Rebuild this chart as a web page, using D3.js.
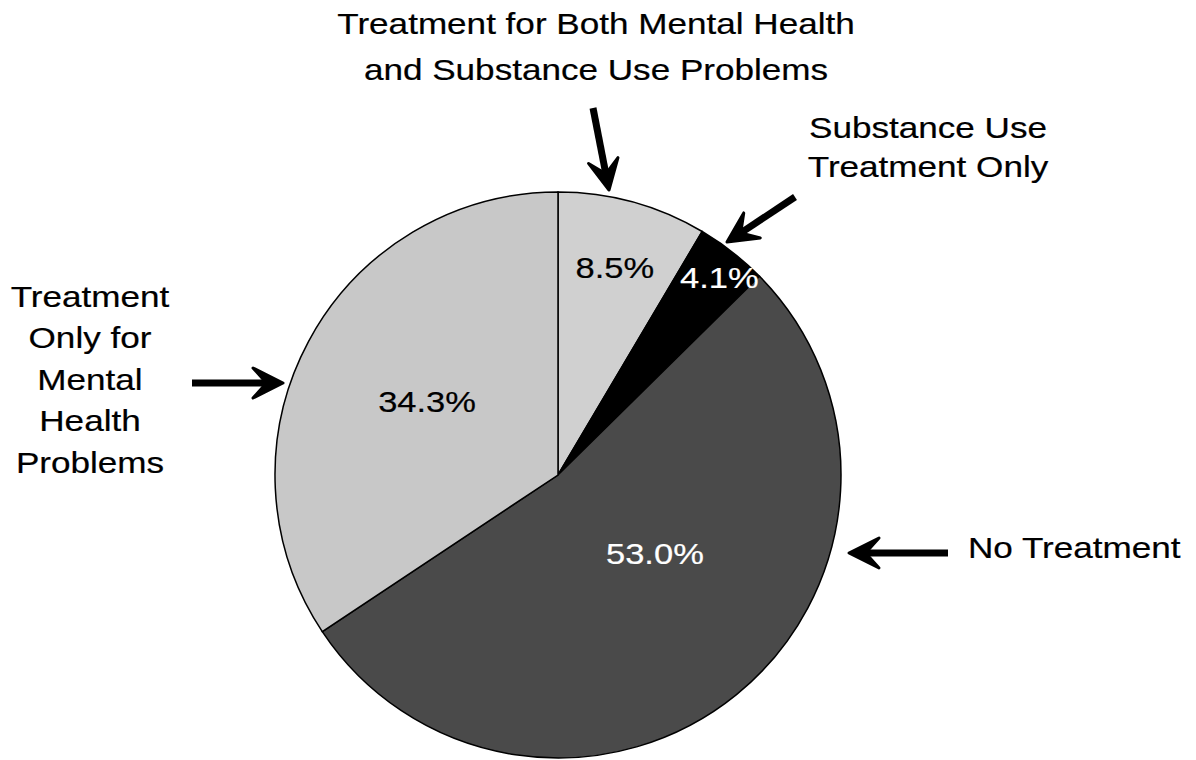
<!DOCTYPE html>
<html>
<head>
<meta charset="utf-8">
<script src="https://cdn.jsdelivr.net/npm/d3@7"></script>
<style>
  html, body { margin: 0; padding: 0; background: #fff; }
  svg { display: block; }
  text { font-family: "Liberation Sans", Arial, sans-serif; }
</style>
</head>
<body>
<svg id="chart" width="1196" height="760"></svg>
<script>
// Data (clockwise from 12 o'clock)
const categories = ["Treatment for Both Mental Health and Substance Use Problems",
                    "Substance Use Treatment Only",
                    "No Treatment",
                    "Treatment Only for Mental Health Problems"];
const values = [8.5, 4.1, 53.0, 34.3];
const valueLabels = ["8.5%", "4.1%", "53.0%", "34.3%"];
const sliceColors = ["#d0d0d0", "#000000", "#4a4a4a", "#c8c8c8"];
const valueLabelColors = ["#000", "#fff", "#fff", "#000"];

const svg = d3.select("#chart");
const cx = 558, cy = 475, r = 283;
const sx = 1.19; // horizontal stretch of the lettering in the original

const pie = d3.pie().sort(null).value(d => d)(values);
const arc = d3.arc().innerRadius(0).outerRadius(r);

const g = svg.append("g").attr("transform", `translate(${cx},${cy})`);
g.selectAll("path.slice").data(pie).enter().append("path")
  .attr("class", "slice")
  .attr("d", arc)
  .attr("fill", (d, i) => sliceColors[i])
  .attr("stroke", "#000")
  .attr("stroke-width", 1.5);

// value label placement: fraction of radius and angle tweak (degrees) from slice mid-angle
const labelRadius = [0.76, 0.90, 0.44, 0.53];
const labelAngleShift = [0, 1.3, -12, 1];
g.selectAll("g.val").data(pie).enter().append("g")
  .attr("class", "val")
  .attr("transform", (d, i) => {
    const a = (d.startAngle + d.endAngle) / 2 + labelAngleShift[i] * Math.PI / 180;
    const rr = r * labelRadius[i];
    return `translate(${rr * Math.sin(a)},${-rr * Math.cos(a)}) scale(${sx},1)`;
  })
  .append("text")
  .attr("text-anchor", "middle")
  .attr("dy", "0.36em")
  .attr("font-size", 29)
  .attr("fill", (d, i) => valueLabelColors[i])
  .attr("stroke", (d, i) => valueLabelColors[i])
  .attr("stroke-width", 0.2)
  .text((d, i) => valueLabels[i]);

// category labels
const catLines = [
  { lines: ["Treatment for Both Mental Health", "and Substance Use Problems"], x: 596, y: 34, anchor: "middle", lh: 46 },
  { lines: ["Substance Use", "Treatment Only"], x: 928, y: 138, anchor: "middle", lh: 39 },
  { lines: ["No Treatment"], x: 968, y: 558, anchor: "start", lh: 40 },
  { lines: ["Treatment", "Only for", "Mental", "Health", "Problems"], x: 90, y: 307, anchor: "middle", lh: 41.5 }
];
catLines.forEach(c => {
  const t = svg.append("g")
    .attr("transform", `translate(${c.x},${c.y}) scale(${sx},1)`)
    .append("text")
    .attr("x", 0).attr("y", 0)
    .attr("text-anchor", c.anchor)
    .attr("font-size", 29.5)
    .attr("fill", "#000")
    .attr("stroke", "#000")
    .attr("stroke-width", 0.2);
  c.lines.forEach((l, i) => {
    t.append("tspan").attr("x", 0).attr("dy", i === 0 ? 0 : c.lh).text(l);
  });
});

// arrows
const arrows = [
  [[593, 108], [609, 190]],
  [[795, 197], [727, 242]],
  [[948, 553], [849, 553]],
  [[192, 383], [283, 383]]
];
arrows.forEach(([a, b]) => {
  const dx = b[0] - a[0], dy = b[1] - a[1];
  const len = Math.hypot(dx, dy);
  const ux = dx / len, uy = dy / len;
  const px = -uy, py = ux;
  const headLen = 30, headW = 15;
  const bx = b[0] - ux * headLen * 0.6, by = b[1] - uy * headLen * 0.6;
  svg.append("line")
    .attr("x1", a[0]).attr("y1", a[1]).attr("x2", bx).attr("y2", by)
    .attr("stroke", "#000").attr("stroke-width", 7);
  const hx = b[0] - ux * headLen, hy = b[1] - uy * headLen;
  svg.append("path")
    .attr("d", `M${b[0]},${b[1]} L${hx + px * headW},${hy + py * headW} L${b[0] - ux * headLen * 0.55},${b[1] - uy * headLen * 0.55} L${hx - px * headW},${hy - py * headW} Z`)
    .attr("fill", "#000")
    .attr("stroke", "#000")
    .attr("stroke-width", 3)
    .attr("stroke-linejoin", "round");
});
</script>
</body>
</html>
